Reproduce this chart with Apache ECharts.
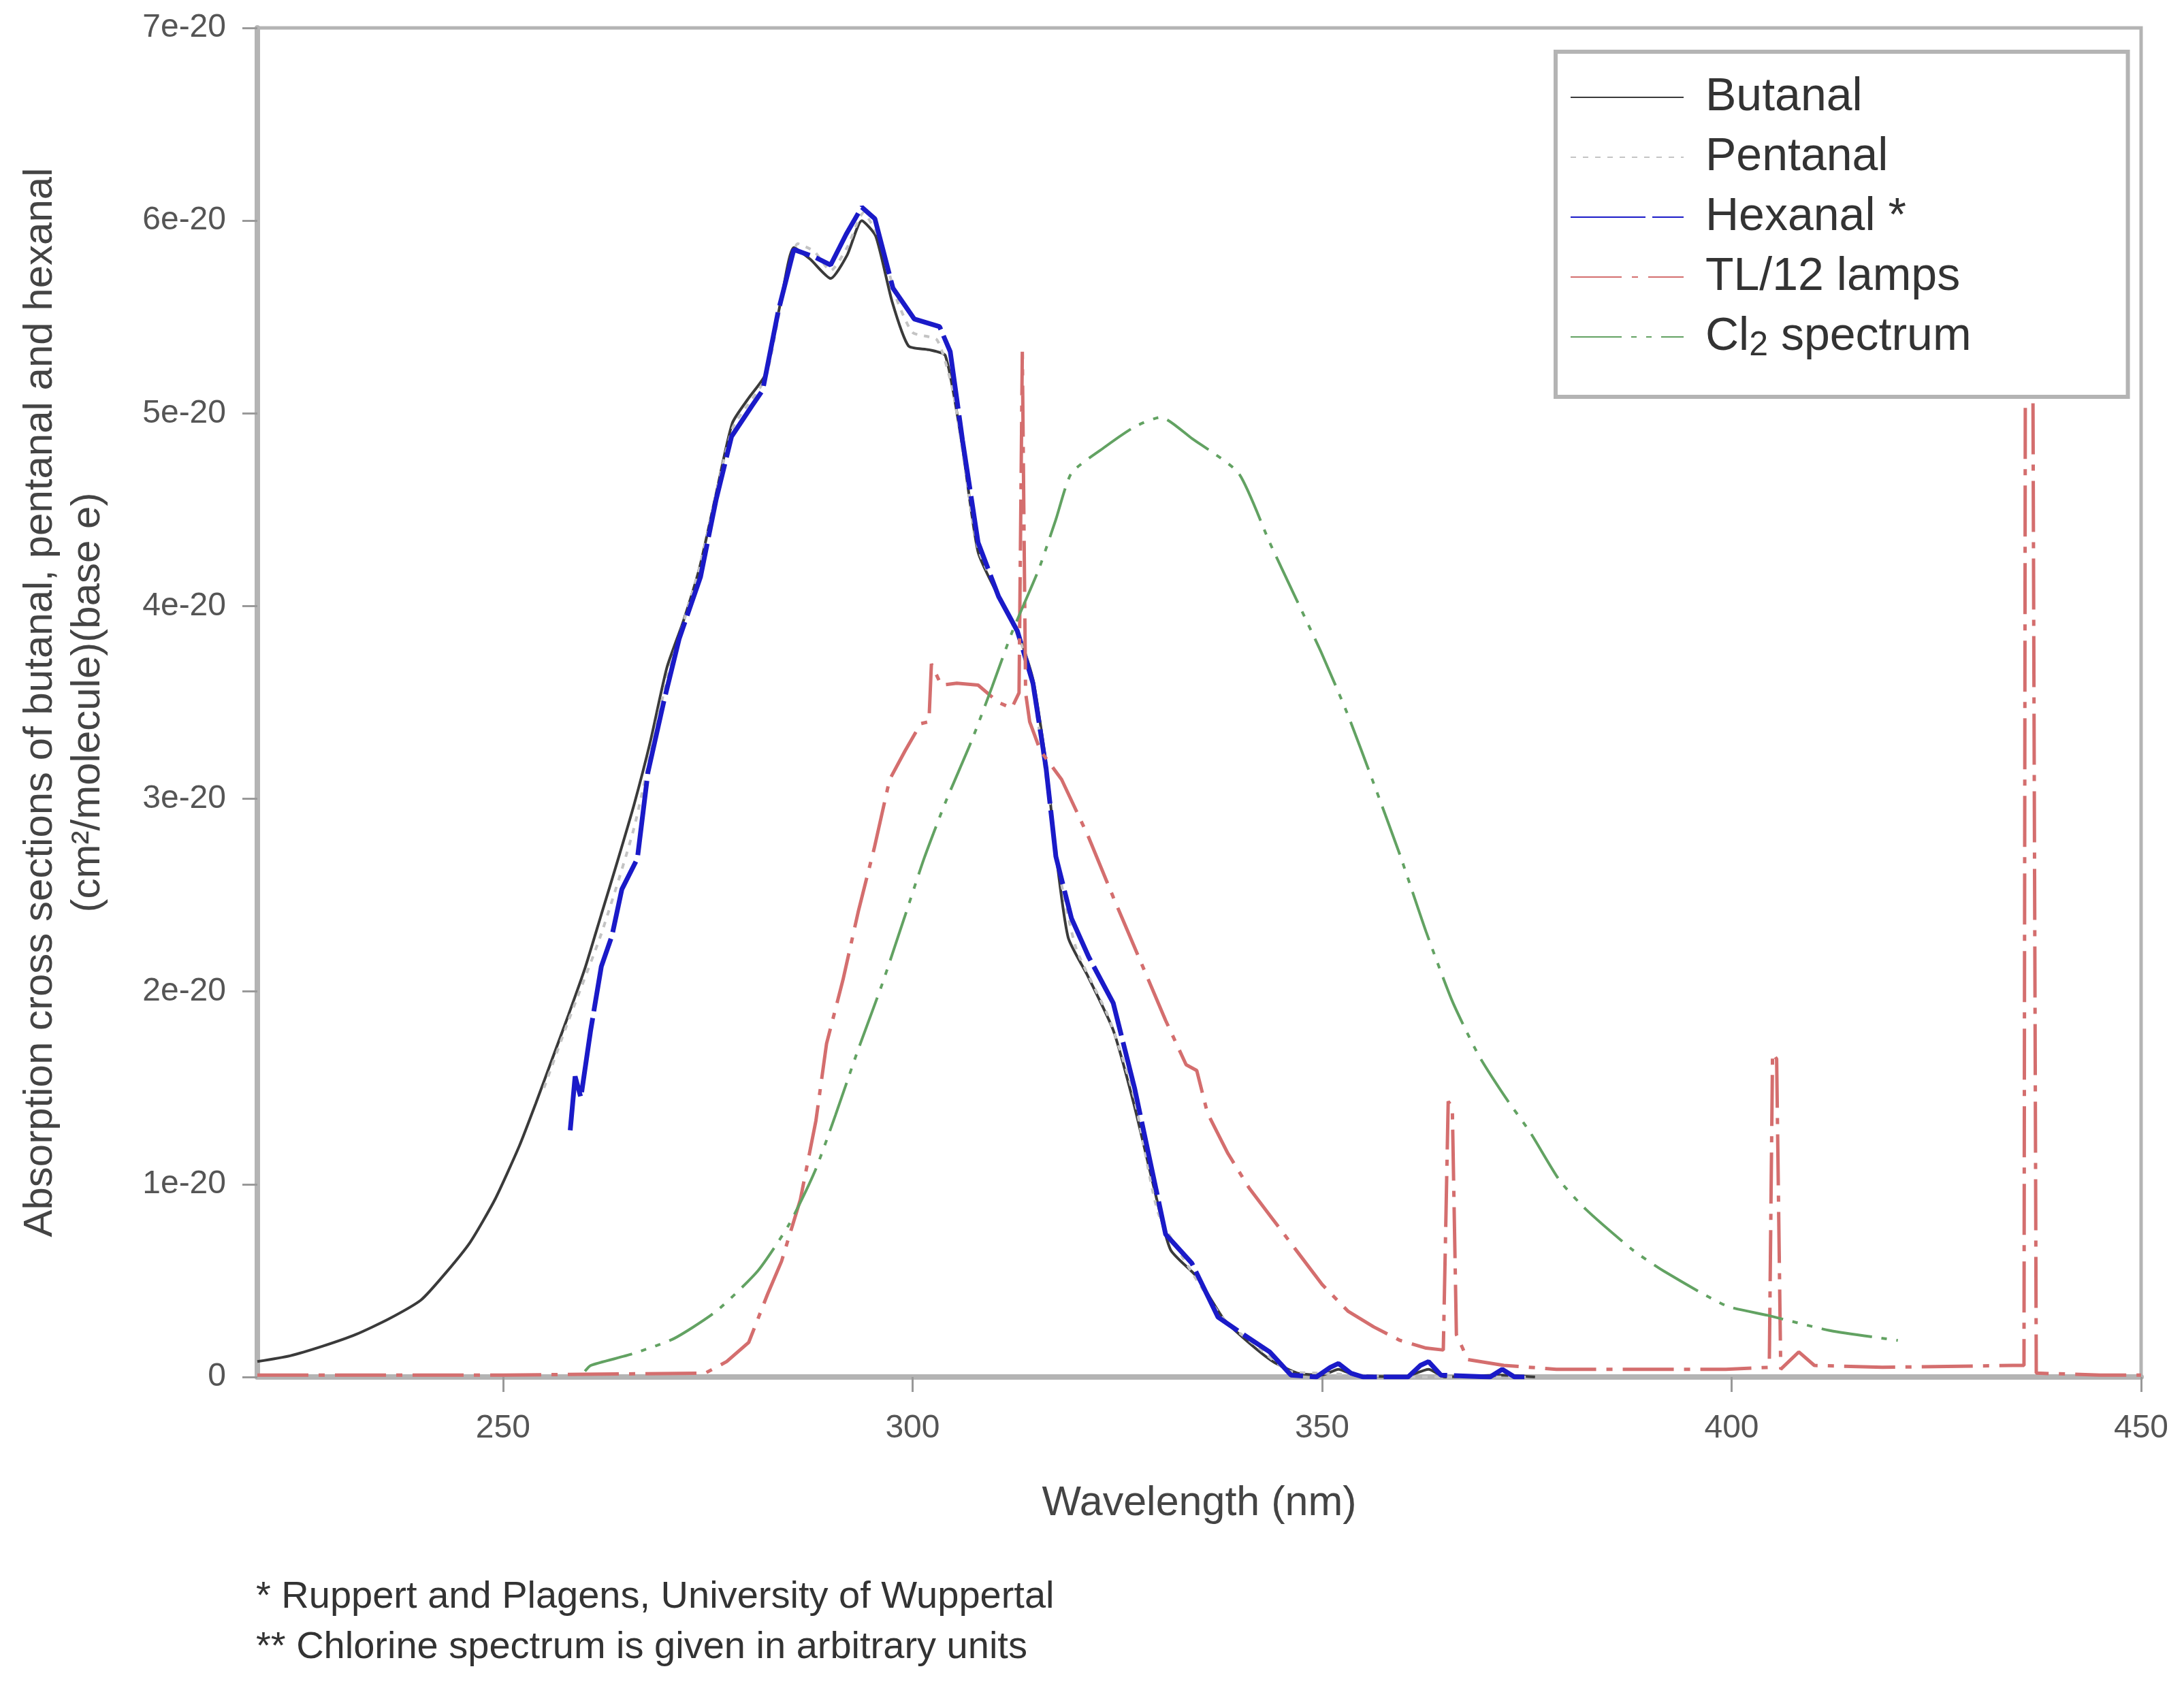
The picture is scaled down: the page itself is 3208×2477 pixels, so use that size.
<!DOCTYPE html>
<html>
<head>
<meta charset="utf-8">
<script src="https://cdn.jsdelivr.net/npm/echarts@6/dist/echarts.min.js"></script>
<style>
  html, body { margin: 0; padding: 0; background: #fff; }
  #chart { width: 3208px; height: 2477px; }
</style>
</head>
<body>
<div id="chart"></div>
<script>
// wavelength ticks (nm) and cross-section ticks (units of 1e-20)
var xTicks = [250, 300, 350, 400, 450];
var yTicks = [0, 1, 2, 3, 4, 5, 6, 7];

var seriesNames = ['Butanal', 'Pentanal', 'Hexanal *', 'TL/12 lamps', 'Cl2 spectrum'];

// Butanal
var butanalX = [220, 224, 228, 232, 236, 240, 243, 246, 249, 252, 254, 256, 258, 260, 262, 264, 266, 268, 270, 272,
  274, 276, 278, 280, 282, 284, 285.5, 287.5, 290, 292, 293.8, 295.5, 297.5, 299.5, 302, 304, 306, 308, 310.5, 312.8,
  314.7, 316.3, 317.5, 319, 321.4, 324.5, 327, 329.6, 331.5, 334.7, 338, 341, 344, 347, 350, 352, 354, 360, 363, 365, 372, 376];
var butanalY = [0.08, 0.11, 0.16, 0.22, 0.30, 0.40, 0.54, 0.70, 0.92, 1.20, 1.42, 1.65, 1.88, 2.12, 2.40, 2.68, 2.97, 3.30, 3.68, 3.92,
  4.20, 4.58, 4.95, 5.08, 5.20, 5.60, 5.86, 5.80, 5.70, 5.82, 6.00, 5.92, 5.58, 5.35, 5.33, 5.30, 4.85, 4.28, 4.05, 3.87,
  3.62, 3.18, 2.72, 2.28, 2.08, 1.80, 1.42, 0.96, 0.66, 0.52, 0.30, 0.18, 0.08, 0.02, 0.01, 0.04, 0.01, 0.0, 0.04, 0.0, 0.01, 0.0];

// Pentanal
var pentanalX = [255, 258, 262, 266, 270, 274, 278, 282, 284, 286, 288, 290, 292, 294, 296, 298, 300, 303, 305, 308,
  311, 314, 316, 318, 320, 324, 327, 330, 334, 338, 342, 346, 350, 360, 375];
var pentanalY = [1.50, 1.85, 2.30, 2.85, 3.62, 4.20, 4.92, 5.18, 5.58, 5.88, 5.84, 5.74, 5.86, 6.04, 5.90, 5.60, 5.42, 5.38, 5.10, 4.30,
  4.02, 3.72, 3.20, 2.60, 2.22, 1.86, 1.46, 0.85, 0.55, 0.30, 0.16, 0.03, 0.02, 0.0, 0.0];

// Hexanal (Ruppert and Plagens)
var hexanalX = [258.2, 258.8, 259.5, 260.7, 262, 263.3, 264.5, 266.4, 267.7, 269.6, 271.5, 274.1, 276, 277.9, 280.4, 281.7,
  283.6, 285.5, 288.1, 290, 291.9, 293.8, 295.4, 297.6, 300.2, 303.3, 304.6, 306.1, 308, 310.5, 312.8, 314.7, 316.3,
  317.5, 319.4, 321.5, 324.5, 327.1, 329.6, 330.9, 334.1, 337.3, 340.4, 343.6, 346.2, 349.3, 351, 352, 353.5, 355,
  360.5, 362, 363, 364.5, 370.5, 372, 373.5, 375.3];
var hexanalY = [1.28, 1.56, 1.45, 1.80, 2.13, 2.29, 2.53, 2.69, 3.14, 3.50, 3.83, 4.15, 4.55, 4.88, 5.04, 5.12,
  5.53, 5.85, 5.81, 5.77, 5.93, 6.07, 6.01, 5.65, 5.49, 5.45, 5.32, 4.86, 4.33, 4.05, 3.87, 3.60, 3.16,
  2.70, 2.38, 2.18, 1.94, 1.50, 1.00, 0.74, 0.59, 0.31, 0.22, 0.13, 0.01, 0.0, 0.05, 0.07, 0.02, 0.0,
  0.0, 0.06, 0.08, 0.01, 0.0, 0.04, 0.0, 0.0];

// TL/12 lamp emission
var lampX = [220, 250, 274.7, 277.3, 280, 282.3, 284, 286.3, 288.2, 289.5, 291.5, 293.4, 295.3, 297.2, 299.1, 301, 302,
  302.3, 303.5, 305.4, 308, 310.5, 312.1, 313, 313.4, 313.8, 314.3, 315.6, 318.2, 321.4, 324.5, 327.7, 330.9, 333.4,
  334.7, 336, 338.5, 341.1, 343.6, 346.8, 350, 353.2, 356.3, 359.5, 362.7, 364.8, 365.4, 365.9, 366.4, 367.8, 372.2,
  378.6, 386.6, 399.3, 404.6, 405, 405.5, 406, 408.2, 410.1, 418.4, 434.3, 435.7, 435.9, 436.7, 437.2, 445, 450];
var lampY = [0.01, 0.01, 0.02, 0.08, 0.18, 0.43, 0.60, 0.92, 1.33, 1.73, 2.06, 2.42, 2.74, 3.10, 3.25, 3.39, 3.40,
  3.70, 3.59, 3.60, 3.59, 3.50, 3.47, 3.55, 5.32, 3.55, 3.40, 3.25, 3.10, 2.81, 2.49, 2.17, 1.85, 1.62,
  1.59, 1.37, 1.16, 0.98, 0.84, 0.66, 0.48, 0.34, 0.26, 0.19, 0.15, 0.14, 1.43, 1.40, 0.22, 0.09, 0.06,
  0.04, 0.04, 0.04, 0.05, 1.68, 1.65, 0.04, 0.13, 0.06, 0.05, 0.06, 0.06, 6.3, 6.3, 0.02, 0.01, 0.01];

// Cl2 spectrum (arbitrary units)
var chlorineX = [260, 260.7, 265.8, 270.9, 276, 281.1, 284.9, 288.1, 290.6, 293.2, 296.3, 298.9, 301.4, 304, 307.2, 309.7,
  312.2, 315.4, 317.5, 319.4, 323.3, 327.1, 330.3, 334.1, 339.8, 343.6, 346.8, 350, 353.2, 356.3, 359.5, 362.7,
  365.9, 369.1, 372.4, 375.4, 379, 382.2, 387.9, 391.7, 399.3, 404.4, 412.1, 420.3];
var chlorineY = [0.03, 0.06, 0.12, 0.20, 0.34, 0.55, 0.79, 1.07, 1.36, 1.68, 2.04, 2.37, 2.69, 2.98, 3.30, 3.58,
  3.87, 4.19, 4.45, 4.69, 4.82, 4.93, 4.98, 4.87, 4.69, 4.33, 4.04, 3.75, 3.43, 3.08, 2.71, 2.31,
  1.95, 1.67, 1.45, 1.27, 1.02, 0.87, 0.66, 0.55, 0.37, 0.32, 0.24, 0.19];

function pairs(xs, ys) {
  return xs.map(function (x, i) { return [x, ys[i]]; });
}

var font = 'Liberation Sans';
var chart = echarts.init(document.getElementById('chart'));

var option = {
  animation: false,
  backgroundColor: '#fff',
  textStyle: { fontFamily: font },
  grid: {
    left: 378, right: 63, top: 41, bottom: 454,
    show: true, borderColor: '#b4b4b4', borderWidth: 5
  },
  legend: {
    orient: 'vertical',
    left: 2285, top: 76,
    padding: [31, 230, 50, 21],
    backgroundColor: '#fff',
    borderColor: '#b4b4b4',
    borderWidth: 6,
    borderRadius: 0,
    itemWidth: 166,
    itemHeight: 20,
    itemGap: 16,
    itemStyle: { opacity: 0 },
    data: seriesNames,
    formatter: function (name) {
      return name === 'Cl2 spectrum' ? 'Cl{sub|2} spectrum' : name;
    },
    textStyle: {
      fontFamily: font,
      fontSize: 68,
      lineHeight: 72,
      color: '#333',
      padding: [0, 0, 0, 27],
      rich: {
        sub: { fontFamily: font, fontSize: 50, color: '#333', padding: [26, 0, 0, 0] }
      }
    }
  },
  xAxis: {
    type: 'value',
    min: 220, max: 450,
    name: 'Wavelength (nm)',
    nameLocation: 'middle',
    nameGap: 156,
    nameTextStyle: { fontFamily: font, fontSize: 61, color: '#444' },
    axisLine: { lineStyle: { color: '#b4b4b4', width: 8 } },
    axisTick: { show: true, length: 22, customValues: xTicks, lineStyle: { color: '#999', width: 3 } },
    axisLabel: { customValues: xTicks, margin: 52, fontSize: 48, color: '#555', fontFamily: font },
    splitLine: { show: false }
  },
  yAxis: {
    type: 'value',
    min: 0, max: 7, interval: 1,
    name: 'Absorption cross sections of butanal, pentanal and hexanal\n(cm\u00b2/molecule)(base e)',
    nameLocation: 'middle',
    nameRotate: 90,
    nameGap: 214,
    nameTextStyle: { fontFamily: font, fontSize: 60, lineHeight: 70, color: '#444', align: 'center' },
    axisLine: { show: true, lineStyle: { color: '#b4b4b4', width: 8 } },
    axisTick: { show: true, length: 22, lineStyle: { color: '#999', width: 3 } },
    axisLabel: {
      margin: 46, fontSize: 48, color: '#555', fontFamily: font,
      formatter: function (v) { return v === 0 ? '0' : v + 'e-20'; }
    },
    splitLine: { show: false }
  },
  series: [
    {
      name: 'Butanal', type: 'line', symbol: 'none', z: 2,
      smooth: 0.2,
      data: pairs(butanalX, butanalY),
      lineStyle: { color: '#3a3a3a', width: 4 }, itemStyle: { color: '#3a3a3a' }
    },
    {
      name: 'Pentanal', type: 'line', symbol: 'none', z: 2,
      smooth: 0.2,
      data: pairs(pentanalX, pentanalY),
      lineStyle: { color: '#c4c4c4', width: 4, type: [8, 10] }, itemStyle: { color: '#c4c4c4' }
    },
    {
      name: 'Hexanal *', type: 'line', symbol: 'none', z: 3,
      data: pairs(hexanalX, hexanalY),
      lineStyle: { color: '#1a1ac8', width: 7, type: [110, 10] }, itemStyle: { color: '#1a1ac8' }
    },
    {
      name: 'TL/12 lamps', type: 'line', symbol: 'none', z: 3,
      data: pairs(lampX, lampY),
      lineStyle: { color: '#d46e6e', width: 5, type: [75, 15, 9, 15] }, itemStyle: { color: '#d46e6e' }
    },
    {
      name: 'Cl2 spectrum', type: 'line', symbol: 'none', z: 3,
      smooth: 0.2,
      data: pairs(chlorineX, chlorineY),
      lineStyle: { color: '#62a262', width: 4, type: [75, 14, 8, 14, 8, 14] }, itemStyle: { color: '#62a262' }
    }
  ],
  graphic: [
    {
      type: 'text', x: 376, y: 2347,
      style: { text: '* Ruppert and Plagens, University of Wuppertal', fontFamily: font, fontSize: 56, fill: '#333', verticalAlign: 'middle' }
    },
    {
      type: 'text', x: 376, y: 2421,
      style: { text: '** Chlorine spectrum is given in arbitrary units', fontFamily: font, fontSize: 56, fill: '#333', verticalAlign: 'middle' }
    }
  ]
};

chart.setOption(option);
</script>
</body>
</html>
